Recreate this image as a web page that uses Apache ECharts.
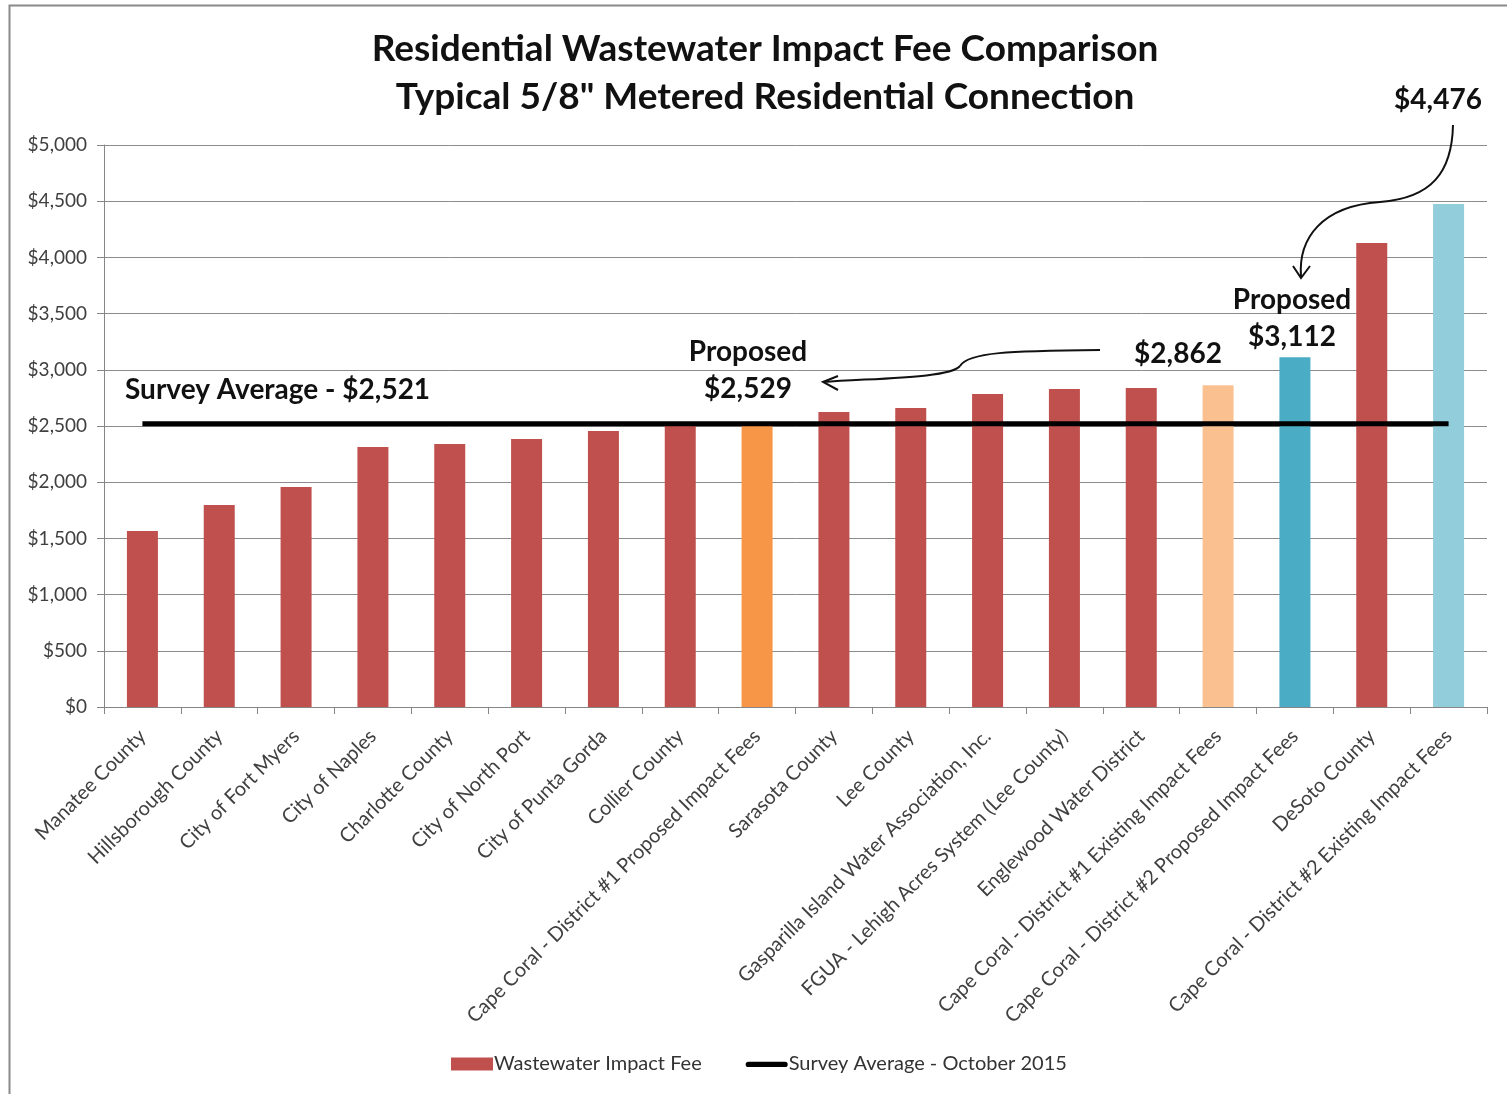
<!DOCTYPE html>
<html>
<head>
<meta charset="utf-8">
<title>Residential Wastewater Impact Fee Comparison</title>
<script src="https://cdn.jsdelivr.net/npm/echarts@6/dist/echarts.min.js"></script>
<style>
  html, body { margin: 0; padding: 0; background: #fff; }
  #chart { width: 1507px; height: 1094px; }
</style>
</head>
<body>
<div id="chart"></div>
<script>
// data
const categories = [
  "Manatee County",
  "Hillsborough County",
  "City of Fort Myers",
  "City of Naples",
  "Charlotte County",
  "City of North Port",
  "City of Punta Gorda",
  "Collier County",
  "Cape Coral - District #1 Proposed Impact Fees",
  "Sarasota County",
  "Lee County",
  "Gasparilla Island Water Association, Inc.",
  "FGUA - Lehigh Acres System (Lee County)",
  "Englewood Water District",
  "Cape Coral - District #1 Existing Impact Fees",
  "Cape Coral - District #2 Proposed Impact Fees",
  "DeSoto County",
  "Cape Coral - District #2 Existing Impact Fees"
];
const feeValues = [1566, 1797, 1957, 2313, 2340, 2384, 2456, 2518, 2529, 2625, 2660, 2785, 2829, 2838, 2862, 3112, 4128, 4476];
const surveyAverage = 2521;
const yTicks = [0, 500, 1000, 1500, 2000, 2500, 3000, 3500, 4000, 4500, 5000];

const RED = "#c0504d";
// the Cape Coral bars get their own colours
const highlight = {
  8: "#f79646",
  14: "#fac090",
  15: "#4bacc6",
  17: "#92cddc"
};

const FONT = "Lato, 'Open Sans', sans-serif";

let chart = echarts.init(document.getElementById("chart"));

let barData = feeValues.map((v, i) => ({
  value: v,
  itemStyle: { color: highlight[i] || RED }
}));

let avgData = categories.map(() => surveyAverage);

function money(v) {
  return "$" + v.toLocaleString("en-US");
}

let option = {
  backgroundColor: "#fff",
  animation: false,
  title: {
    text: "Residential Wastewater Impact Fee Comparison\nTypical 5/8\" Metered Residential Connection",
    left: 760,
    top: 20,
    textAlign: "center",
    textStyle: {
      fontFamily: FONT,
      fontSize: 37,
      fontWeight: "bold",
      color: "#111",
      lineHeight: 48
    }
  },
  legend: {
    bottom: 15,
    left: 446,
    itemGap: 44,
    itemWidth: 42,
    itemHeight: 13,
    textStyle: { fontFamily: FONT, fontSize: 20, color: "#333", padding: [0, 0, 0, -4] },
    data: [
      { name: "Wastewater Impact Fee", icon: "rect" },
      {
        name: "Survey Average - October 2015",
        icon: "path://M0,0h0.01v0.01zM3,4h42a3,3 0 0 1 0,6h-42a3,3 0 0 1 0,-6zM0,13h0.01v0.01z",
        itemStyle: { color: "#000" }
      }
    ]
  },
  grid: {
    left: 104,
    right: 20,
    top: 145,
    bottom: 387
  },
  xAxis: {
    type: "category",
    data: categories,
    axisLine: { lineStyle: { color: "#868686", width: 1 } },
    axisTick: { show: true, length: 7, lineStyle: { color: "#868686" } },
    axisLabel: {
      interval: 0,
      rotate: 45,
      fontFamily: FONT,
      fontSize: 20,
      color: "#404040",
      margin: 26
    }
  },
  yAxis: {
    type: "value",
    min: yTicks[0],
    max: yTicks[yTicks.length - 1],
    interval: 500,
    axisLine: { show: true, lineStyle: { color: "#868686" } },
    axisTick: { show: true, length: 7, lineStyle: { color: "#868686" } },
    splitLine: { lineStyle: { color: "#8c8c8c", width: 1 } },
    axisLabel: {
      fontFamily: FONT,
      fontSize: 19,
      color: "#404040",
      margin: 17,
      formatter: money
    }
  },
  series: [
    {
      name: "Wastewater Impact Fee",
      type: "bar",
      barWidth: 31,
      itemStyle: { color: RED },
      data: barData
    },
    {
      name: "Survey Average - October 2015",
      type: "line",
      data: avgData,
      symbol: "none",
      itemStyle: { color: "#000" },
      lineStyle: { color: "#000", width: 5 },
      z: 5
    }
  ]
};

chart.setOption(option);

// annotations and hand drawn arrows
const annStyle = { fontFamily: FONT, fontSize: 28, fontWeight: "bold", fill: "#111" };

function label(text, x, y, align) {
  return {
    type: "text",
    x: x,
    y: y,
    z: 20,
    style: Object.assign({ text: text, textAlign: align || "center", textVerticalAlign: "middle" }, annStyle)
  };
}

function curve(x1, y1, c1x, c1y, c2x, c2y, x2, y2) {
  return {
    type: "bezierCurve",
    z: 20,
    shape: { x1: x1, y1: y1, cpx1: c1x, cpy1: c1y, cpx2: c2x, cpy2: c2y, x2: x2, y2: y2 },
    style: { stroke: "#111", lineWidth: 2, fill: null }
  };
}

function head(points) {
  return {
    type: "polyline",
    z: 20,
    shape: { points: points },
    style: { stroke: "#111", lineWidth: 2, fill: null }
  };
}

chart.setOption({
  graphic: [
    {
      type: "rect",
      z: 0,
      shape: { x: 9.5, y: 5.5, width: 1600, height: 1200 },
      style: { fill: null, stroke: "#8a8a8a", lineWidth: 2 }
    },
    label("Survey Average - " + money(surveyAverage), 125, 390, "left"),
    label("Proposed", 748, 352),
    label(money(feeValues[8]), 748, 389),
    label(money(feeValues[14]), 1178, 354),
    label("Proposed", 1292, 300),
    label(money(feeValues[15]), 1292, 337),
    label(money(feeValues[17]), 1438, 100),
    curve(1100, 350, 1010, 351, 968, 352, 960, 366),
    curve(960, 366, 950, 378, 880, 378, 823, 382),
    head([[838, 376], [823, 382], [838, 390]]),
    curve(1453, 125, 1452, 172, 1432, 198, 1380, 202),
    curve(1380, 202, 1322, 206, 1298, 238, 1301, 277),
    head([[1293, 266], [1301, 278], [1310, 266]])
  ]
});
</script>
</body>
</html>
